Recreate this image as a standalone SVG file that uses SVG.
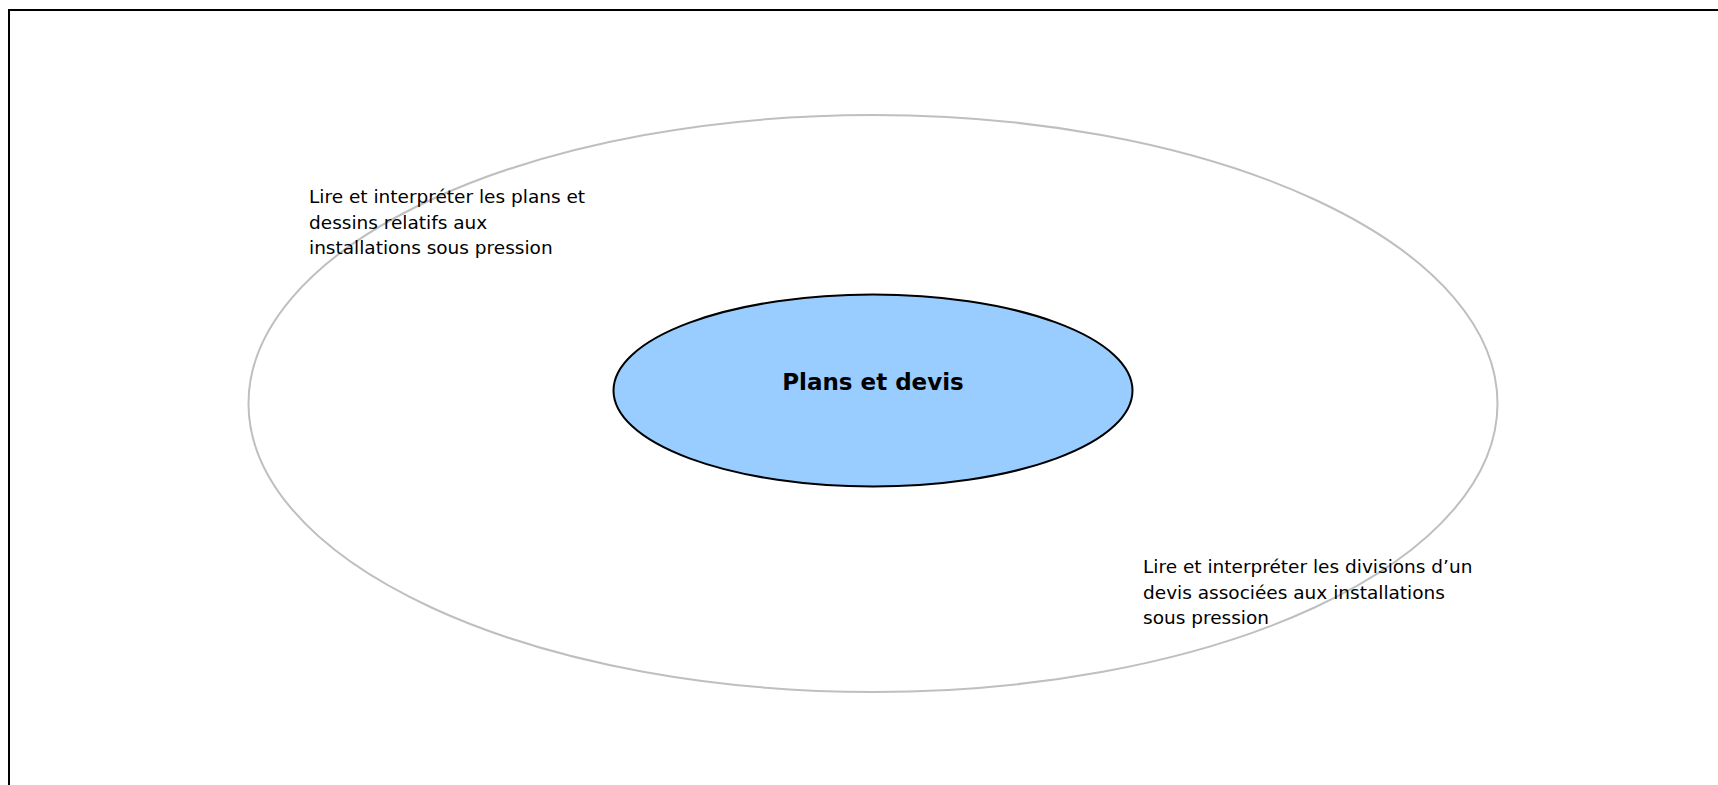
<svg xmlns="http://www.w3.org/2000/svg" width="1718" height="785" viewBox="0 0 1718 785">
<style>
.lbl{font-family:"DejaVu Sans","Liberation Sans",sans-serif;font-size:18.5px;fill:#000}
.title{font-family:"DejaVu Sans","Liberation Sans",sans-serif;font-size:23px;font-weight:bold;fill:#000}
</style>
<rect x="0" y="0" width="1718" height="785" fill="#fff"/>
<rect id="frame" x="9" y="10" width="1730" height="800" fill="none" stroke="#000" stroke-width="2"/>
<g id="outer">
<ellipse cx="873" cy="403.5" rx="624.5" ry="288.5" fill="none" stroke="#bfbfbf" stroke-width="2"/>
</g>
<g id="center">
<ellipse cx="873" cy="390.5" rx="259.5" ry="96" fill="#99ccff" stroke="#000" stroke-width="2"/>
<text class="title" x="873" y="389.5" text-anchor="middle">Plans et devis</text>
</g>
<g id="label1">
<text class="lbl" x="309" y="203">Lire et interpréter les plans et</text>
<text class="lbl" x="309" y="228.5">dessins relatifs aux</text>
<text class="lbl" x="309" y="254">installations sous pression</text>
</g>
<g id="label2">
<text class="lbl" x="1143" y="573">Lire et interpréter les divisions d’un</text>
<text class="lbl" x="1143" y="598.5">devis associées aux installations</text>
<text class="lbl" x="1143" y="624">sous pression</text>
</g>
<g id="connectors"></g>
</svg>
